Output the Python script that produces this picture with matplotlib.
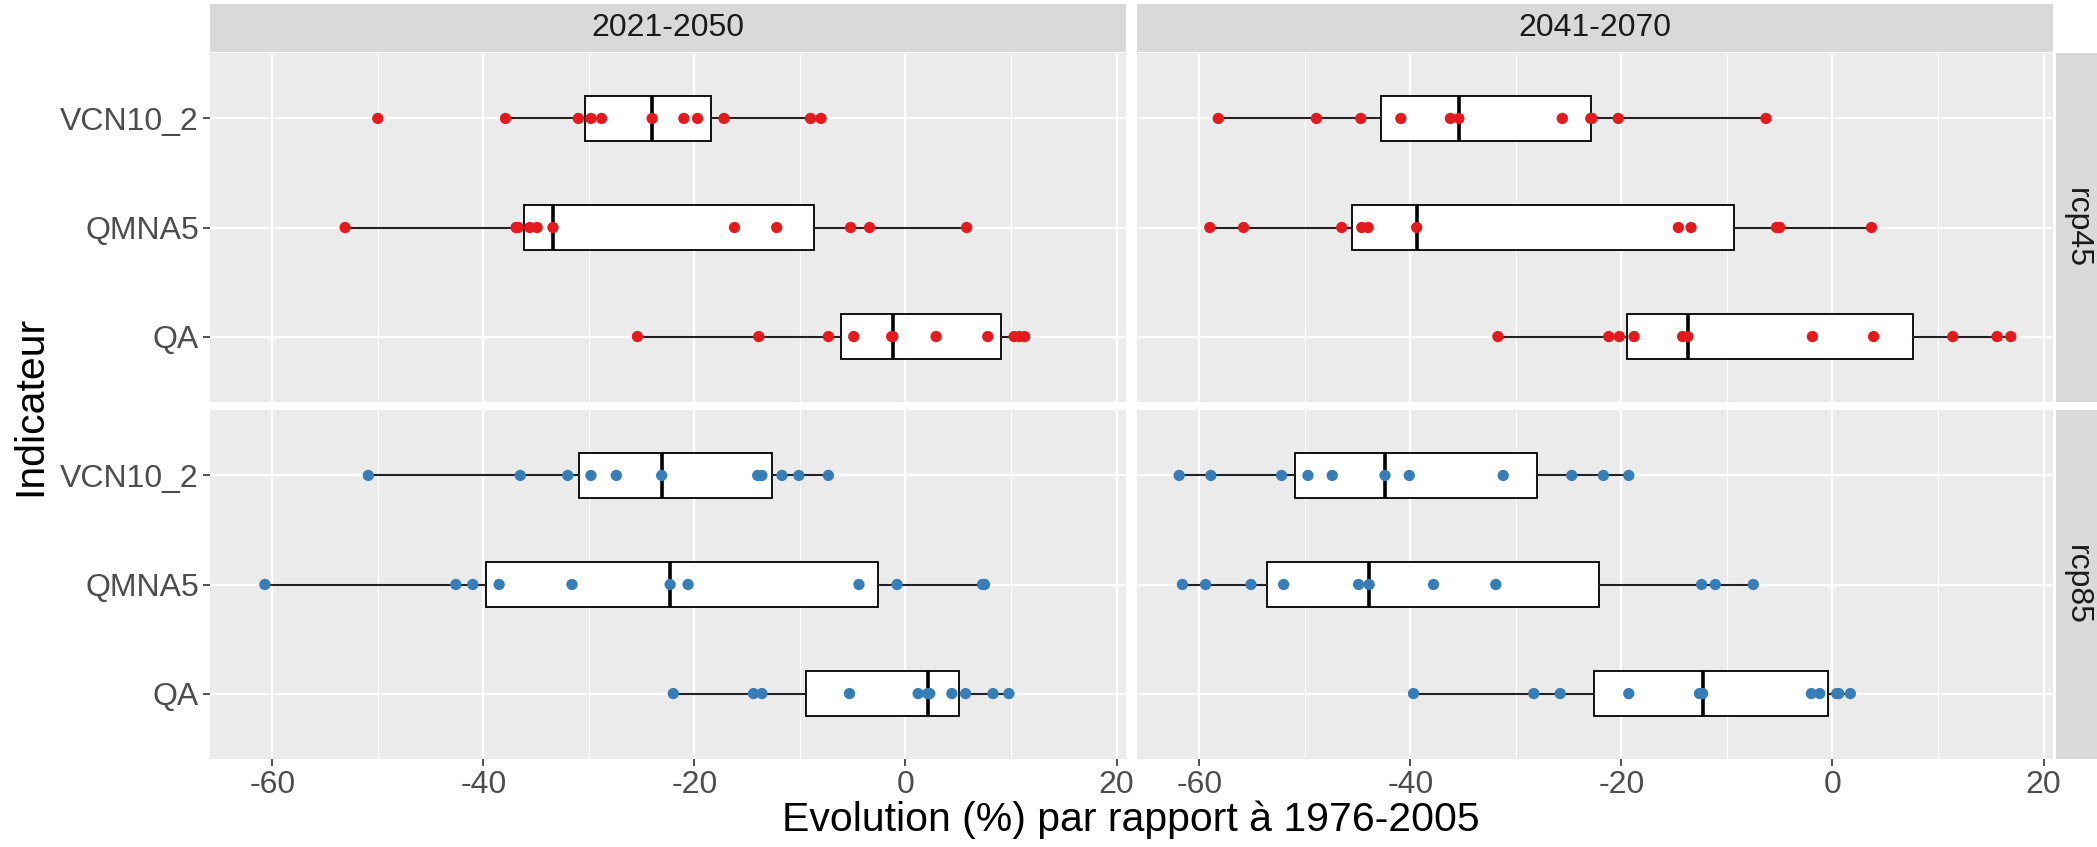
import matplotlib
matplotlib.use("Agg")
import matplotlib.pyplot as plt

plt.rcParams['font.family'] = ['Liberation Sans', 'DejaVu Sans']

# indicateurs (de bas en haut)
indicateurs = ['QA', 'QMNA5', 'VCN10_2']
periodes = ['2021-2050', '2041-2070']
scenarios = ['rcp45', 'rcp85']

# rcp45, 2021-2050
r45_p1_QA = [-25.4, -13.9, -7.3, -4.9, -1.3, -1.2, 2.9, 7.8, 10.3, 10.8, 11.3]
r45_p1_QMNA5 = [-53.1, -36.9, -36.7, -35.6, -34.9, -33.4, -16.2, -12.2, -5.2, -3.4, 5.8]
r45_p1_VCN = [-50.0, -37.9, -31.0, -29.8, -28.8, -24.0, -21.0, -19.7, -17.2, -9.0, -8.0]
# rcp45, 2041-2070
r45_p2_QA = [-31.7, -21.2, -20.2, -18.8, -14.2, -13.7, -1.9, 3.9, 11.4, 15.6, 16.9]
r45_p2_QMNA5 = [-59.0, -55.8, -46.5, -44.6, -44.0, -39.4, -14.6, -13.4, -5.3, -5.0, 3.7]
r45_p2_VCN = [-58.2, -48.9, -44.7, -40.9, -36.2, -35.4, -25.6, -22.9, -22.8, -20.3, -6.3]
# rcp85, 2021-2050
r85_p1_QA = [-22.0, -14.4, -13.6, -5.3, 1.2, 2.1, 2.3, 4.4, 5.7, 8.3, 9.8]
r85_p1_QMNA5 = [-60.7, -42.6, -41.0, -38.5, -31.6, -22.3, -20.6, -4.4, -0.8, 7.3, 7.5]
r85_p1_VCN = [-50.9, -36.5, -32.0, -29.8, -27.4, -23.1, -14.0, -13.6, -11.7, -10.1, -7.3]
# rcp85, 2041-2070
r85_p2_QA = [-39.7, -28.3, -25.8, -19.3, -12.6, -12.3, -2.0, -1.2, 0.4, 0.6, 1.7]
r85_p2_QMNA5 = [-61.6, -59.4, -55.1, -52.0, -44.9, -43.9, -37.8, -31.9, -12.4, -11.1, -7.5]
r85_p2_VCN = [-61.9, -58.9, -52.2, -49.7, -47.4, -42.4, -40.1, -31.2, -24.7, -21.7, -19.3]

panels = {
    ('rcp45', '2021-2050'): [r45_p1_QA, r45_p1_QMNA5, r45_p1_VCN],
    ('rcp45', '2041-2070'): [r45_p2_QA, r45_p2_QMNA5, r45_p2_VCN],
    ('rcp85', '2021-2050'): [r85_p1_QA, r85_p1_QMNA5, r85_p1_VCN],
    ('rcp85', '2041-2070'): [r85_p2_QA, r85_p2_QMNA5, r85_p2_VCN],
}
couleurs = {'rcp45': '#E41A1C', 'rcp85': '#377EB8'}

W, H = 2097, 847
fig = plt.figure(figsize=(W / 100, H / 100), dpi=100)

def box(x0, y0, x1, y1):
    # pixels (origine en haut a gauche) -> coordonnees figure
    return [x0 / W, 1 - y1 / H, (x1 - x0) / W, (y1 - y0) / H]

cols_x = [(210, 1126), (1137, 2053)]
rows_y = [(53, 402), (410, 759)]
tick_col = '#4D4D4D'

for i, sc in enumerate(scenarios):
    for j, per in enumerate(periodes):
        ax = fig.add_axes(box(cols_x[j][0], rows_y[i][0], cols_x[j][1], rows_y[i][1]))
        ax.set_facecolor('#EBEBEB')
        data = panels[(sc, per)]
        ax.boxplot(data, positions=[1, 2, 3], orientation='horizontal', widths=0.42,
                   patch_artist=True, showfliers=False, showcaps=False, whis=1.5,
                   boxprops=dict(facecolor='white', edgecolor='black', linewidth=1.3),
                   medianprops=dict(color='black', linewidth=2.6),
                   whiskerprops=dict(color='#222222', linewidth=1.5), zorder=2)
        for k, vals in enumerate(data):
            ax.scatter(vals, [k + 1] * len(vals), s=66, color=couleurs[sc],
                       edgecolors='none', zorder=3)
        ax.set_xlim(-65.9, 20.9)
        ax.set_ylim(0.4, 3.6)
        ax.set_xticks([-60, -40, -20, 0, 20])
        ax.set_xticks([-50, -30, -10, 10], minor=True)
        ax.set_yticks([1, 2, 3])
        ax.grid(which='major', color='white', linewidth=1.7, zorder=0)
        ax.grid(which='minor', axis='x', color='white', linewidth=0.9, zorder=0)
        ax.set_axisbelow(True)
        for s in ax.spines.values():
            s.set_visible(False)
        ax.tick_params(which='major', length=5, width=1.2, color='#333333',
                       labelsize=23, labelcolor=tick_col, pad=3)
        ax.tick_params(which='minor', length=0)
        if j == 0:
            ax.set_yticklabels(indicateurs)
        else:
            ax.tick_params(axis='y', length=0, labelleft=False)
        if i == 1:
            ax.set_xticklabels(['-60', '-40', '-20', '0', '20'])
        else:
            ax.tick_params(axis='x', length=0, labelbottom=False)

# bandeaux du haut
for j, per in enumerate(periodes):
    sa = fig.add_axes(box(cols_x[j][0], 4, cols_x[j][1], 52))
    sa.set_facecolor('#D9D9D9')
    sa.set_xticks([]); sa.set_yticks([])
    for s in sa.spines.values():
        s.set_visible(False)
    sa.text(0.5, 0.5, per, ha='center', va='center', fontsize=23, color='#1A1A1A',
            transform=sa.transAxes)

# bandeaux de droite
for i, sc in enumerate(scenarios):
    sa = fig.add_axes(box(2056, rows_y[i][0], 2097, rows_y[i][1]))
    sa.set_facecolor('#D9D9D9')
    sa.set_xticks([]); sa.set_yticks([])
    for s in sa.spines.values():
        s.set_visible(False)
    sa.text(0.5, 0.5, sc, ha='center', va='center', rotation=-90, fontsize=23,
            color='#1A1A1A', transform=sa.transAxes)

fig.text(1131 / W, 1 - 820 / H, 'Evolution (%) par rapport à 1976-2005',
         ha='center', va='center', fontsize=29.5)
fig.text(30 / W, 1 - 406 / H, 'Indicateur', ha='center', va='center',
         rotation=90, fontsize=29.5)

fig.savefig('out.png', dpi=100)
